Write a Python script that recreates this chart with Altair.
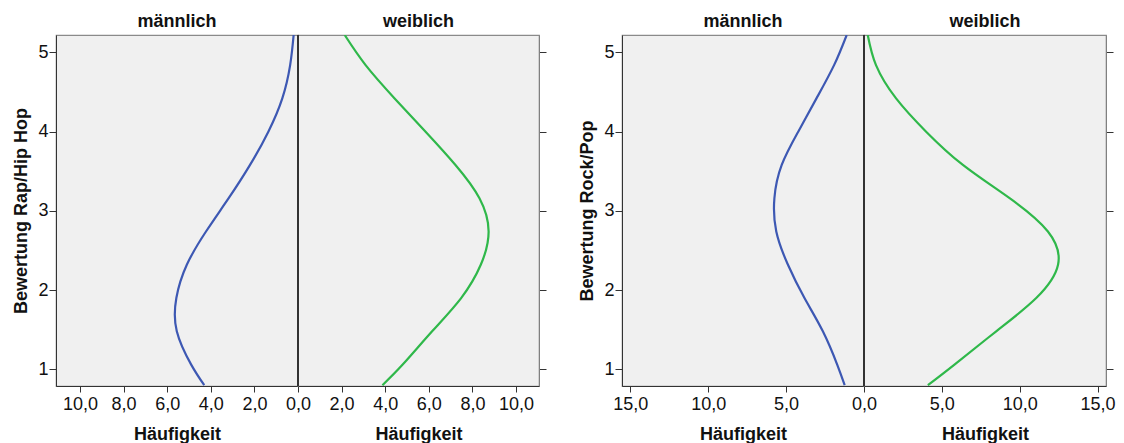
import altair as alt
import pandas as pd

FONT = "Liberation Sans"
BLUE = "#3d58b3"
GREEN = "#2fb84a"

rating = [5.22, 4.84, 4.42, 4.00, 3.58, 3.16, 2.74, 2.32, 1.90, 1.48, 1.06, 0.80]
# Rap/Hip Hop - männlich / weiblich (Häufigkeit)
rap_m_freq = [0.20, 0.36, 0.72, 1.36, 2.20, 3.18, 4.22, 5.10, 5.58, 5.56, 4.90, 4.30]
rap_w_freq = [2.14, 3.10, 4.43, 5.85, 7.22, 8.32, 8.74, 8.38, 7.48, 6.15, 4.80, 3.87]
# Rock/Pop - männlich / weiblich (Häufigkeit)
rock_m_freq = [1.11, 1.92, 3.05, 4.22, 5.28, 5.75, 5.63, 4.88, 3.82, 2.64, 1.72, 1.24]
rock_w_freq = [0.24, 0.77, 2.06, 3.99, 6.35, 9.35, 11.81, 12.46, 11.06, 8.49, 5.81, 4.10]

rap_ticks = [0, 2, 4, 6, 8, 10]
rock_ticks = [0, 5, 10, 15]
y_ticks = [1, 2, 3, 4, 5]
Y_DOMAIN = [0.79, 5.22]

LABEL_EXPR = "replace(format(datum.value, '.1f'), '.', ',')"


def panel(freqs, color, xmax, ticks, side, ytitle, width):
    df = pd.DataFrame({"rating": rating, "freq": freqs})
    male = side == "m"
    xvals = ticks if male else [t for t in ticks if t != 0]
    x = alt.X(
        "freq:Q",
        scale=alt.Scale(domain=[0, xmax], reverse=male, nice=False, zero=False),
        axis=alt.Axis(values=xvals, title="Häufigkeit", labelExpr=LABEL_EXPR,
                      labelFlush=False, labelOverlap=False, tickSize=6,
                      labelPadding=3, titlePadding=12),
    )
    if male:
        yaxis = alt.Axis(values=y_ticks, format="d", title=ytitle, orient="left",
                         tickSize=7, labelPadding=1, titlePadding=7)
    else:
        yaxis = alt.Axis(values=y_ticks, labels=False, title=None, orient="right",
                         tickSize=7, domainColor="#808080")
    y = alt.Y("rating:Q", scale=alt.Scale(domain=Y_DOMAIN, nice=False, zero=False), axis=yaxis)
    line = alt.Chart(df).mark_line(color=color, strokeWidth=2.2, interpolate="natural", clip=True).encode(
        x=x, y=y, order=alt.Order("rating:Q")
    )
    layers = [line]
    if not male:
        rule = alt.Chart(df).mark_rule(color="#333333", strokeWidth=1).encode(x=alt.datum(0))
        layers = [rule, line]
    return alt.layer(*layers).properties(
        width=width, height=351,
        title=alt.TitleParams("männlich" if male else "weiblich"),
    )


left = alt.hconcat(
    panel(rap_m_freq, BLUE, 11.1, rap_ticks, "m", "Bewertung Rap/Hip Hop", 242),
    panel(rap_w_freq, GREEN, 11.05, rap_ticks, "w", "", 241),
    spacing=0, bounds="flush",
)
right = alt.hconcat(
    panel(rock_m_freq, BLUE, 15.53, rock_ticks, "m", "Bewertung Rock/Pop", 242),
    panel(rock_w_freq, GREEN, 15.54, rock_ticks, "w", "", 242),
    spacing=0, bounds="flush",
)

chart = alt.hconcat(left, right, spacing=30).properties(
    padding={"left": 12, "top": 11, "right": 0, "bottom": 0},
    background="white",
).configure_view(
    stroke="#8a8a8a", fill="#f0f0f0", strokeWidth=1.2
).configure_axis(
    labelFont=FONT, titleFont=FONT, labelFontSize=18, titleFontSize=18,
    titleFontWeight="bold", labelColor="#111111", titleColor="#111111",
    domainColor="#333333", tickColor="#333333", grid=False,
).configure_title(
    font=FONT, fontSize=18, fontWeight="bold", color="#111111", offset=4, anchor="middle",
)

chart.save("out.html", embed_options={"renderer": "svg", "actions": False})
